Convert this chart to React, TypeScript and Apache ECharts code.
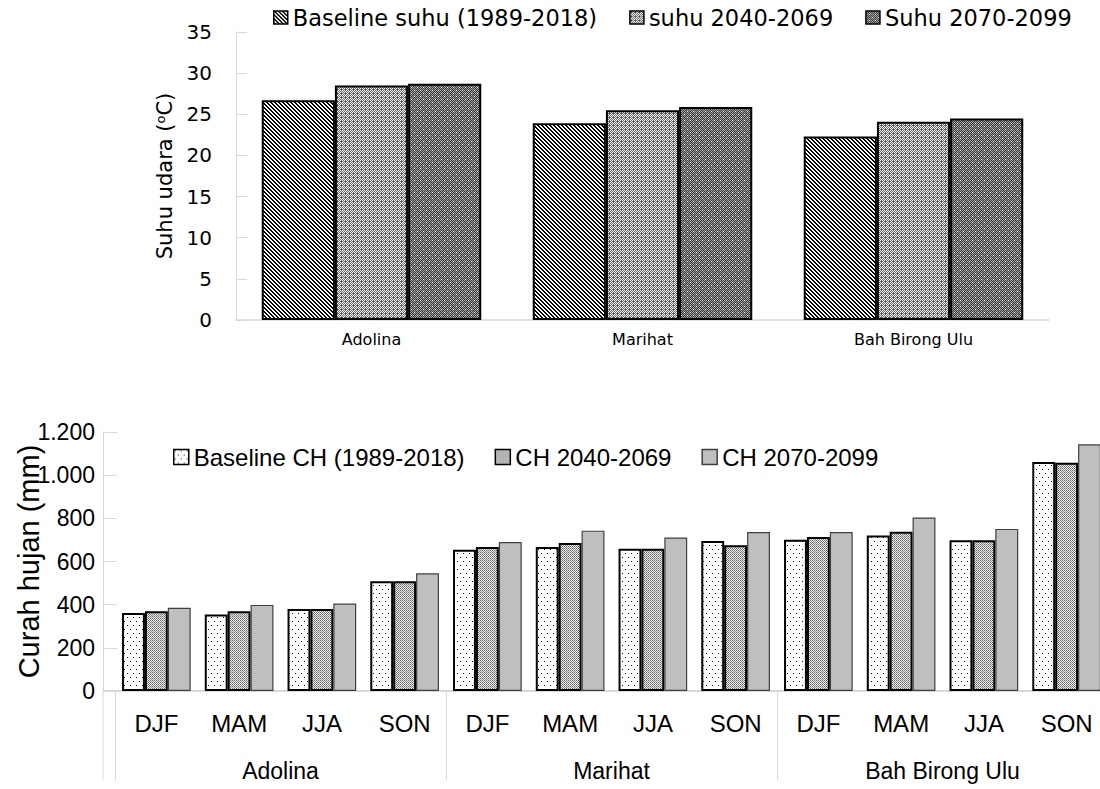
import React, { useEffect, useRef } from "react";
import * as echarts from "echarts";

// ---- Data ----
const stations = ["Adolina", "Marihat", "Bah Birong Ulu"];
const tempNames = ["Baseline suhu (1989-2018)", "suhu 2040-2069", "Suhu 2070-2099"];
const suhuBaseline = [26.7, 23.9, 22.3];
const suhu2040 = [28.5, 25.5, 24.1];
const suhu2070 = [28.7, 25.9, 24.5];

const seasons = ["DJF", "MAM", "JJA", "SON"];
const rainNames = ["Baseline CH (1989-2018)", "CH 2040-2069", "CH 2070-2099"];
const chBaseline = [361, 354, 380, 508, 654, 667, 659, 695, 701, 720, 698, 1061];
const ch2040 = [369, 369, 380, 508, 667, 686, 659, 675, 714, 738, 698, 1057];
const ch2070 = [386, 399, 405, 545, 690, 743, 711, 737, 737, 804, 751, 1143];

const TOP_FONT = '"DejaVu Sans", sans-serif';
const BOT_FONT = '"Liberation Sans", Arial, sans-serif';

function makePattern(w: number, h: number, paint: (ctx: CanvasRenderingContext2D) => void) {
  const c = document.createElement("canvas");
  c.width = w;
  c.height = h;
  const ctx = c.getContext("2d")!;
  paint(ctx);
  return { image: c, repeat: "repeat" } as any;
}

function px(ctx: CanvasRenderingContext2D, x: number, y: number, col: string) {
  ctx.fillStyle = col;
  ctx.fillRect(x, y, 1, 1);
}

export default function App() {
  const ref = useRef<HTMLDivElement>(null);

  useEffect(() => {
    const chart = echarts.init(ref.current!, null, { renderer: "svg" });

    // diagonal "\\" hatch
    const pDiag = makePattern(4, 4, (ctx) => {
      ctx.fillStyle = "#fff";
      ctx.fillRect(0, 0, 4, 4);
      for (let y = 0; y < 4; y++)
        for (let x = 0; x < 4; x++) if ((((x - y) % 4) + 4) % 4 < 2) px(ctx, x, y, "#000");
    });
    // light checker with white dots
    const pLight = makePattern(4, 4, (ctx) => {
      for (let y = 0; y < 4; y++)
        for (let x = 0; x < 4; x++) px(ctx, x, y, (x + y) % 2 === 0 ? "#ececec" : "#6a6a6a");
      px(ctx, 0, 0, "#ffffff");
      px(ctx, 2, 2, "#ffffff");
      px(ctx, 1, 1, "#444444");
    });
    // dark checker with sparse white dots
    const pDark = makePattern(6, 6, (ctx) => {
      for (let y = 0; y < 6; y++)
        for (let x = 0; x < 6; x++) px(ctx, x, y, (x + y) % 2 === 0 ? "#a0a0a0" : "#3a3a3a");
      px(ctx, 0, 0, "#ffffff");
      px(ctx, 3, 3, "#ffffff");
    });
    // white with sparse black dots
    const pDots = makePattern(6, 8, (ctx) => {
      ctx.fillStyle = "#fff";
      ctx.fillRect(0, 0, 6, 8);
      px(ctx, 1, 1, "#111");
      px(ctx, 4, 5, "#111");
    });
    // dense gray stipple
    const pStipple = makePattern(2, 2, (ctx) => {
      px(ctx, 0, 0, "#666666");
      px(ctx, 1, 1, "#8a8a8a");
      px(ctx, 1, 0, "#eeeeee");
      px(ctx, 0, 1, "#eeeeee");
    });

    const seasonCats = stations.flatMap(() => seasons);
    const thousands = (v: number) => String(v).replace(/\B(?=(\d{3})+(?!\d))/g, ".");

    const option: any = {
      animation: false,
      backgroundColor: "#fff",
      grid: [
        { left: 236, right: 51, top: 32, bottom: 469, outerBoundsMode: "none", containLabel: false },
        { left: 115, right: -8, top: 432, bottom: 98, outerBoundsMode: "none", containLabel: false },
      ],
      legend: [
        {
          data: tempNames,
          left: 268,
          top: 1,
          itemWidth: 14,
          itemHeight: 13,
          itemGap: 32,
          icon: "rect",
          selectedMode: false,
          itemStyle: { borderWidth: 1.5 },
          textStyle: { fontFamily: TOP_FONT, fontSize: 22.5, color: "#000" },
        },
        {
          data: rainNames,
          left: 168,
          top: 440,
          itemWidth: 15,
          itemHeight: 15,
          itemGap: 30,
          icon: "rect",
          selectedMode: false,
          itemStyle: { borderWidth: 1.5 },
          textStyle: { fontFamily: BOT_FONT, fontSize: 24, color: "#000" },
        },
      ],
      xAxis: [
        {
          gridIndex: 0,
          type: "category",
          data: stations,
          axisLine: { lineStyle: { color: "#d9d9d9", width: 1.5 } },
          axisTick: { show: false },
          axisLabel: { color: "#000", fontFamily: TOP_FONT, fontSize: 16, margin: 11 },
        },
        {
          gridIndex: 1,
          type: "category",
          data: seasonCats,
          position: "bottom",
          axisLine: { lineStyle: { color: "#d9d9d9", width: 2 } },
          axisTick: { show: false },
          axisLabel: { color: "#000", fontFamily: BOT_FONT, fontSize: 24, margin: 20, interval: 0 },
        },
        {
          gridIndex: 1,
          type: "category",
          data: stations,
          position: "bottom",
          axisLine: { show: false },
          axisTick: { show: true, length: 89, lineStyle: { color: "#d9d9d9", width: 1 } },
          axisLabel: { color: "#000", fontFamily: BOT_FONT, fontSize: 23, margin: 68, interval: 0 },
          splitLine: { show: false },
        },
      ],
      yAxis: [
        {
          gridIndex: 0,
          type: "value",
          min: 0,
          max: 35,
          interval: 5,
          axisLine: { show: true, lineStyle: { color: "#d9d9d9" } },
          axisTick: { show: true, inside: true, length: 11, lineStyle: { color: "#d9d9d9" } },
          splitLine: { show: false },
          axisLabel: { color: "#000", fontFamily: TOP_FONT, fontSize: 20, margin: 24 },
          name: "{a|Suhu udara (}{b|o}{a|C)}",
          nameLocation: "middle",
          nameGap: 61,
          nameMoveOverlap: false,
          nameTextStyle: {
            rich: {
              a: { fontFamily: TOP_FONT, fontSize: 21, color: "#000" },
              b: { fontFamily: TOP_FONT, fontSize: 13, color: "#000", verticalAlign: "top" },
            },
          },
        },
        {
          gridIndex: 1,
          type: "value",
          min: 0,
          max: 1200,
          interval: 200,
          offset: 12,
          axisLine: { show: true, lineStyle: { color: "#d9d9d9" } },
          axisTick: { show: true, inside: true, length: 14, lineStyle: { color: "#d9d9d9" } },
          splitLine: { show: false },
          axisLabel: { color: "#000", fontFamily: BOT_FONT, fontSize: 23, margin: 8, formatter: thousands },
          name: "Curah hujan (mm)",
          nameLocation: "middle",
          nameGap: 60,
          nameMoveOverlap: false,
          nameTextStyle: { fontFamily: BOT_FONT, fontSize: 29, color: "#000" },
        },
      ],
      series: [
        {
          name: tempNames[0],
          type: "bar",
          xAxisIndex: 0,
          yAxisIndex: 0,
          data: suhuBaseline,
          barGap: "0%",
          barCategoryGap: "19%",
          itemStyle: { color: pDiag, borderColor: "#000", borderWidth: 2 },
        },
        {
          name: tempNames[1],
          type: "bar",
          xAxisIndex: 0,
          yAxisIndex: 0,
          data: suhu2040,
          barGap: "0%",
          barCategoryGap: "19%",
          itemStyle: { color: pLight, borderColor: "#000", borderWidth: 2 },
        },
        {
          name: tempNames[2],
          type: "bar",
          xAxisIndex: 0,
          yAxisIndex: 0,
          data: suhu2070,
          barGap: "0%",
          barCategoryGap: "19%",
          itemStyle: { color: pDark, borderColor: "#000", borderWidth: 2 },
        },
        {
          name: rainNames[0],
          type: "bar",
          xAxisIndex: 1,
          yAxisIndex: 1,
          data: chBaseline,
          barGap: "0%",
          barCategoryGap: "17%",
          itemStyle: { color: pDots, borderColor: "#000", borderWidth: 2 },
        },
        {
          name: rainNames[1],
          type: "bar",
          xAxisIndex: 1,
          yAxisIndex: 1,
          data: ch2040,
          barGap: "0%",
          barCategoryGap: "17%",
          itemStyle: { color: pStipple, borderColor: "#000", borderWidth: 2 },
        },
        {
          name: rainNames[2],
          type: "bar",
          xAxisIndex: 1,
          yAxisIndex: 1,
          data: ch2070,
          barGap: "0%",
          barCategoryGap: "17%",
          itemStyle: { color: "#bfbfbf", borderColor: "#404040", borderWidth: 1.2 },
        },
      ],
      graphic: [
        { type: "line", shape: { x1: 103, y1: 691, x2: 115, y2: 691 }, style: { stroke: "#d9d9d9", lineWidth: 2 } },
        { type: "line", shape: { x1: 103, y1: 691, x2: 103, y2: 780 }, style: { stroke: "#d9d9d9", lineWidth: 1 } },
      ],
    };

    chart.setOption(option);
    return () => chart.dispose();
  }, []);

  return (
    <div
      ref={ref}
      style={{ position: "absolute", left: 0, top: 0, width: 1100, height: 789, background: "#fff" }}
    />
  );
}
